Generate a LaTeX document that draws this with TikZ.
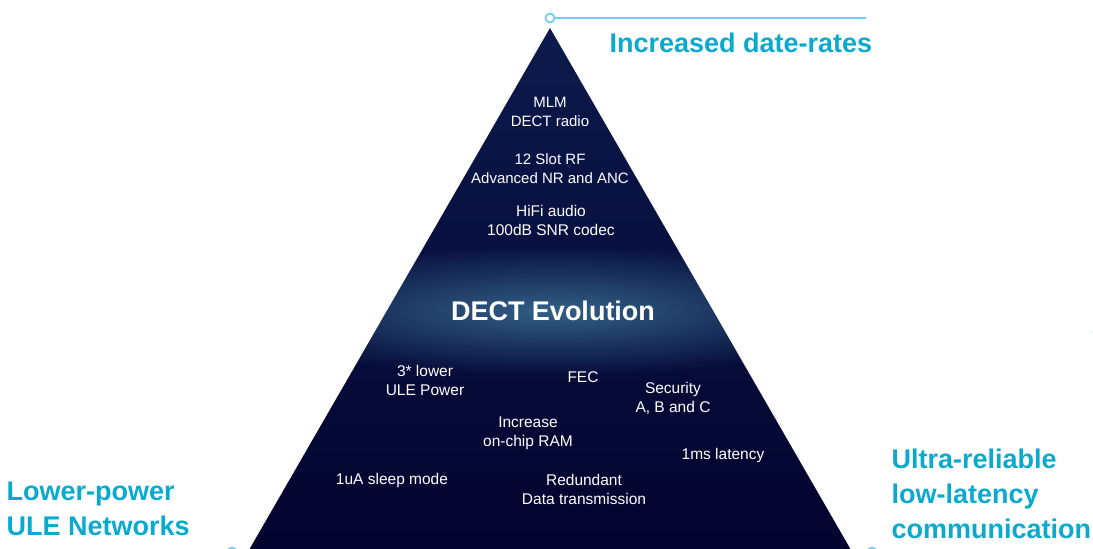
\documentclass[tikz,border=0pt]{standalone}
\usepackage{fontspec}
\setmainfont{Liberation Sans}
\usetikzlibrary{fadings}
\definecolor{navytop}{HTML}{0C1A4C}
\definecolor{navymid}{HTML}{17426F}
\definecolor{navybot}{HTML}{02022C}
\definecolor{glowblue}{HTML}{3A6E94}
\definecolor{labelcyan}{HTML}{0AAAD0}
\definecolor{leadblue}{HTML}{74CDF2}
\tikzfading[name=glowfade,inner color=transparent!15,outer color=transparent!100]
\tikzset{item/.style={text=white,align=center,font=\fontsize{15.5}{19}\selectfont},
  headline/.style={text=labelcyan,align=left,anchor=west,font=\fontsize{27}{35}\selectfont\bfseries},
  dot/.style={circle,draw=leadblue,line width=1.8pt,fill=white,minimum size=9pt,inner sep=0pt},
  leader/.style={draw=leadblue,line width=1.8pt}}
\begin{document}
\begin{tikzpicture}[x=1pt,y=-1pt]
  \useasboundingbox (0,0) rectangle (1093,549);
  \clip (0,0) rectangle (1093,549);
  % pyramid
  \shade[top color=navytop,middle color=navymid,bottom color=navybot] (550,28) -- (866,576) -- (234,576) -- cycle;
  \begin{scope}
    \clip (550,28) -- (866,576) -- (234,576) -- cycle;
    \fill[glowblue,path fading=glowfade] (553,311) ellipse (340 and 66);
  \end{scope}
  % markers and leader
  \node[dot] (apexdot) at (550,18) {};
  \coordinate (apexend) at (866,18);
  \draw[leader] (apexdot) -- (apexend);
  \node[dot] (leftdot) at (232,552) {};
  \node[dot] (rightdot) at (872,552) {};
  \node[dot] (edgedot) at (1098,332) {};
  % items
  \node[item,font=\fontsize{15}{19}\selectfont] (mlm) at (550,112) {MLM\\DECT radio};
  \node[item,font=\fontsize{15}{19}\selectfont] (slot) at (550,169) {12 Slot RF\\Advanced NR and ANC};
  \node[item] (hifi) at (551,220) {HiFi audio\\100dB SNR codec};
  \node[text=white,font=\fontsize{27}{30}\selectfont\bfseries] (evo) at (553,311) {DECT Evolution};
  \node[item] (ule) at (425,380) {3* lower\\ULE Power};
  \node[item] (fec) at (583,377) {FEC};
  \node[item] (sec) at (673,398) {Security\\A, B and C};
  \node[item] (ram) at (528,433) {Increase\\on-chip RAM};
  \node[item] (lat) at (723,455) {1ms latency};
  \node[item] (sleep) at (392,480) {1uA sleep mode};
  \node[item] (red) at (584,489) {Redundant\\Data transmission};
  % corner labels
  \node[headline] (rates) at (606,43) {Increased date-rates};
  \node[headline] (lowpow) at (3,509) {Lower-power\\ULE Networks};
  \node[headline] (urllc) at (888,494) {Ultra-reliable\\low-latency\\communication};
\end{tikzpicture}
\end{document}
